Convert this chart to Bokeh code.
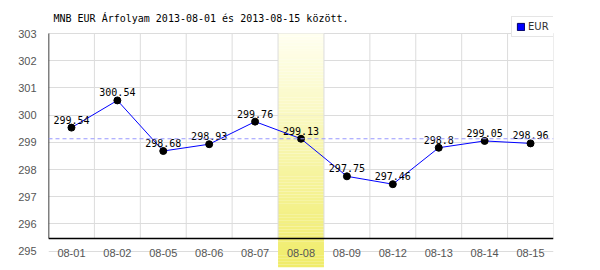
import numpy as np
from bokeh.plotting import figure
from bokeh.models import Range1d, FixedTicker, Span, Legend, LegendItem, Label
from bokeh.core.properties import value
from bokeh.embed import file_html
from bokeh.resources import INLINE

# ---- data ----
dates = ["08-01", "08-02", "08-05", "08-06", "08-07", "08-08",
         "08-09", "08-12", "08-13", "08-14", "08-15"]
rates = [299.54, 300.54, 298.68, 298.93, 299.76, 299.13,
         297.75, 297.46, 298.80, 299.05, 298.96]
highlight_date = "08-08"
ref_rate = 299.13
y_ticks = [295, 296, 297, 298, 299, 300, 301, 302, 303]
title_text = "MNB EUR Árfolyam 2013-08-01 és 2013-08-15 között."
series_name = "EUR"

# ---- styling constants ----
PX_PER_UNIT = 27.2
FRAME_H = 267
Y_TOP_TICK = 303
Y_MAX = Y_TOP_TICK + 33 / PX_PER_UNIT          # frame reaches the top of the page
Y_MIN = Y_MAX - FRAME_H / PX_PER_UNIT          # frame bottom (band runs below the x axis)
AXIS_Y = Y_TOP_TICK - (238 - 33) / PX_PER_UNIT  # where the black x axis line sits
GRID = "#dcdcdc"

n = len(dates)
xc = [i + 0.5 for i in range(n)]

p = figure(width=600, height=270,
           x_range=Range1d(0, n), y_range=Range1d(Y_MIN, Y_MAX),
           min_border_left=48, min_border_right=47, min_border_top=0,
           min_border_bottom=3,
           toolbar_location=None, output_backend="svg")
p.outline_line_color = None
p.background_fill_color = "white"
p.border_fill_color = "white"

# highlight band with vertical gradient
hi = dates.index(highlight_date)
nslices = 80
edges = np.linspace(Y_MIN, Y_TOP_TICK, nslices + 1)
top_col = np.array([255, 255, 240])
bot_col = np.array([240, 236, 104])
cols = []
for k in range(nslices):
    t = (k + 0.5) / nslices  # 0 bottom -> 1 top
    c = bot_col + (top_col - bot_col) * t
    cols.append("#%02x%02x%02x" % tuple(int(round(v)) for v in c))
p.quad(left=[hi] * nslices, right=[hi + 1] * nslices,
       bottom=edges[:-1], top=edges[1:], fill_color=cols, line_color=None)

# grid
p.xgrid.visible = False
p.ygrid.ticker = FixedTicker(ticks=y_ticks)
p.ygrid.grid_line_color = GRID
bounds = list(range(1, n + 1))
p.segment(x0=bounds, x1=bounds, y0=[AXIS_Y] * len(bounds), y1=[Y_TOP_TICK] * len(bounds),
          line_color=GRID, line_width=1)
# y axis line
p.segment(x0=[0], x1=[0], y0=[AXIS_Y], y1=[Y_TOP_TICK], line_color="black", line_width=1.5)

# reference dashed line
p.add_layout(Span(location=ref_rate, dimension="width", line_color="#9999ff",
                  line_width=1, line_dash="4 3"))

# legend swatch proxy: a zero-size quad hidden under the first point
swatch = p.quad(left=xc[:1], right=xc[:1], top=rates[:1], bottom=rates[:1],
                fill_color="#0000ff", line_color="#000066", line_width=1)

# series
p.line(xc, rates, line_color="#0000ff", line_width=1)
p.scatter(xc, rates, size=7, fill_color="black", line_color="black")
labels = ["{:g}".format(v) for v in rates]
p.text(x=xc, y=rates, text=labels, text_align="center", text_baseline="bottom",
       y_offset=-4, text_font=value("DejaVu Sans Mono"), text_font_size="10px",
       text_color="black")

# axes
xa = p.xaxis[0]
xa.fixed_location = AXIS_Y
xa.ticker = FixedTicker(ticks=xc)
xa.major_label_overrides = {x: d for x, d in zip(xc, dates)}
xa.axis_line_color = "black"
xa.axis_line_width = 1.5
xa.major_tick_line_color = None
xa.minor_tick_line_color = None
xa.major_label_standoff = 4
xa.major_label_text_font = "Liberation Sans"
xa.major_label_text_font_size = "11px"
xa.major_label_text_color = "#555555"

ya = p.yaxis[0]
ya.ticker = FixedTicker(ticks=y_ticks)
ya.axis_line_color = None
ya.major_tick_line_color = None
ya.minor_tick_line_color = None
ya.major_label_standoff = 6
ya.major_label_text_font = "Liberation Sans"
ya.major_label_text_font_size = "11px"
ya.major_label_text_color = "#555555"

# title (drawn inside the frame area, which reaches the top of the page)
p.add_layout(Label(x=5, y=FRAME_H - 23, x_units="screen", y_units="screen",
                   text=title_text, text_font="DejaVu Sans Mono", text_font_size="10px",
                   text_color="black", text_baseline="bottom", text_align="left"))

legend = Legend(items=[LegendItem(label=series_name, renderers=[swatch])],
                location=(463, FRAME_H - 37), orientation="vertical",
                padding=4, margin=0, spacing=0,
                glyph_width=9, glyph_height=9, label_standoff=3,
                label_text_font="DejaVu Sans", label_text_font_size="10px",
                label_text_color="#333333", label_height=10,
                border_line_color="#cccccc", border_line_width=1,
                background_fill_color="white", background_fill_alpha=1.0)
p.add_layout(legend, "center")

open("out.html", "w").write(file_html(p, INLINE))
